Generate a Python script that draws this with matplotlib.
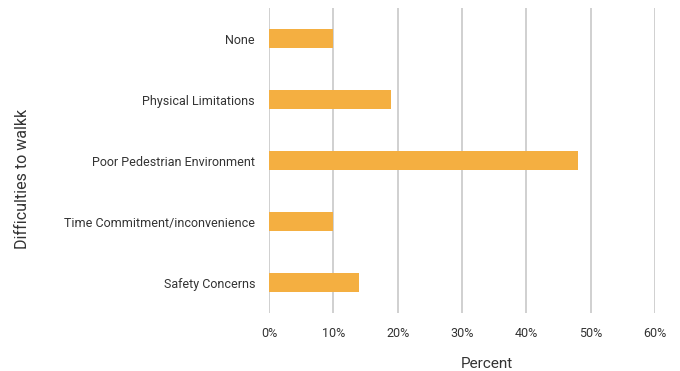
import matplotlib.pyplot as plt
import matplotlib
from matplotlib.ticker import PercentFormatter

matplotlib.rcParams['font.family'] = ['Roboto', 'DejaVu Sans']

categories = ['None', 'Physical Limitations', 'Poor Pedestrian Environment',
              'Time Commitment/inconvenience', 'Safety Concerns']
percent = [10, 19, 48, 10, 14]
x_ticks = [0, 10, 20, 30, 40, 50, 60]

fig = plt.figure(figsize=(6.8, 3.71), dpi=100)
ax = fig.add_axes([0.3956, 0.1563, 0.5676, 0.8221])

ypos = list(range(len(categories)))
ax.barh(ypos, percent, height=0.31, color='#F4AF41', zorder=3)

ax.set_xlim(0, 60)
ax.set_ylim(len(categories) - 0.5, -0.5)
ax.set_xticks(x_ticks)
ax.xaxis.set_major_formatter(PercentFormatter(decimals=0))
ax.set_yticks(ypos)
ax.set_yticklabels(categories)
ax.tick_params(axis='both', length=0, labelsize=9, colors='#333333')
ax.tick_params(axis='x', pad=10)
ax.tick_params(axis='y', pad=10)
ax.grid(axis='x', color='#C4C4C4', linewidth=1.1, zorder=0)
for s in ax.spines.values():
    s.set_visible(False)

ax.set_xlabel('Percent', fontsize=11, color='#333333')
ax.xaxis.set_label_coords((487 - 269) / 386, -0.143)
ax.set_ylabel('Difficulties to walkk', fontsize=11.5, color='#333333')
ax.yaxis.set_label_coords(-(269 - 30) / 386, 0.44)

fig.savefig('out.png', dpi=100)
